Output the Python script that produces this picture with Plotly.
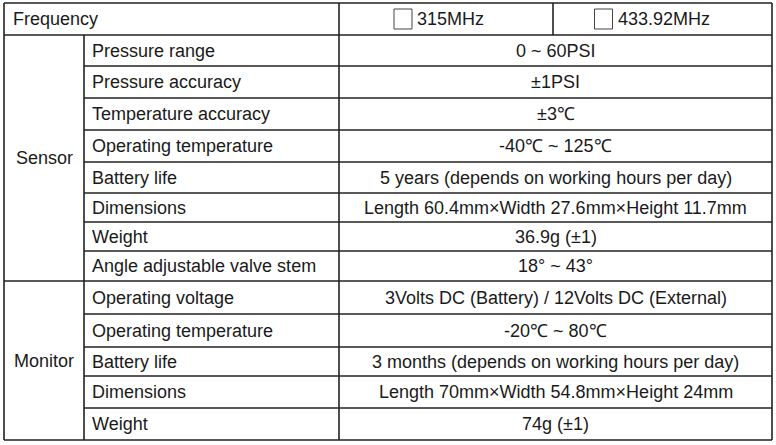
import plotly.graph_objects as go

groups = ["Sensor", "Monitor"]
sensor_params = ["Pressure range", "Pressure accuracy", "Temperature accuracy", "Operating temperature",
                 "Battery life", "Dimensions", "Weight", "Angle adjustable valve stem"]
sensor_values = ["0 ~ 60PSI", "±1PSI", "±3℃", "-40℃ ~ 125℃",
                 "5 years (depends on working hours per day)",
                 "Length 60.4mm×Width 27.6mm×Height 11.7mm", "36.9g (±1)", "18° ~ 43°"]
monitor_params = ["Operating voltage", "Operating temperature", "Battery life", "Dimensions", "Weight"]
monitor_values = ["3Volts DC (Battery) / 12Volts DC (External)", "-20℃ ~ 80℃",
                  "3 months (depends on working hours per day)",
                  "Length 70mm×Width 54.8mm×Height 24mm", "74g (±1)"]
header_label = "Frequency"
frequencies = ["315MHz", "433.92MHz"]

# layout (pixel geometry)
X0, X1, X2, X3, X4 = 4, 84, 339, 553, 772
header = (3, 35)
sensor_rows = [35, 66, 98, 130, 162, 193, 222, 251, 281]
monitor_rows = [281, 314, 347, 376, 408, 440]
FONT = "Liberation Sans, Arial, sans-serif"
FS = 18
LW = 1.6

shapes, ann = [], []
def line(x0, y0, x1, y1):
    shapes.append(dict(type="line", x0=x0, y0=y0, x1=x1, y1=y1, xref="x", yref="y",
                       line=dict(color="#222", width=LW)))
def text(x, y, s, anchor="left"):
    ann.append(dict(x=x, y=y, text=s, xref="x", yref="y", showarrow=False, xanchor=anchor,
                    yanchor="middle", font=dict(family=FONT, size=FS, color="#1a1a1a")))

line(X0, header[0], X4, header[0]); line(X0, monitor_rows[-1], X4, monitor_rows[-1])
line(X0, header[0], X0, monitor_rows[-1]); line(X4, header[0], X4, monitor_rows[-1])
line(X2, header[0], X2, monitor_rows[-1])
line(X3, header[0], X3, header[1])
line(X1, header[1], X1, monitor_rows[-1])
line(X0, header[1], X4, header[1])
line(X0, monitor_rows[0], X4, monitor_rows[0])
for y in sensor_rows[1:-1] + monitor_rows[1:-1]:
    line(X1, y, X4, y)

text(X0 + 7, sum(header) / 2, header_label)
for i, f in enumerate(frequencies):
    cx = (X2 + X3) / 2 if i == 0 else (X3 + X4) / 2
    bx = cx - 52 if i == 0 else cx - 68
    shapes.append(dict(type="rect", x0=bx, x1=bx + 18, y0=9, y1=29, xref="x", yref="y",
                       line=dict(color="#444", width=1)))
    text(bx + 21, sum(header) / 2, f)

for rows, params, vals, g in [(sensor_rows, sensor_params, sensor_values, groups[0]),
                              (monitor_rows, monitor_params, monitor_values, groups[1])]:
    text((X0 + X1) / 2, (rows[0] + rows[-1]) / 2, g, "center")
    for i, (p, v) in enumerate(zip(params, vals)):
        yc = (rows[i] + rows[i + 1]) / 2
        text(X1 + 6, yc, p)
        text((X2 + X4) / 2, yc, v, "center")

fig = go.Figure()
fig.update_layout(width=776, height=445, margin=dict(l=0, r=0, t=0, b=0),
                  paper_bgcolor="white", plot_bgcolor="white", shapes=shapes, annotations=ann,
                  xaxis=dict(range=[0, 776], visible=False, fixedrange=True),
                  yaxis=dict(range=[445, 0], visible=False, fixedrange=True),
                  showlegend=False)
fig.write_html("out.html", config={"displayModeBar": False},
               post_script="document.body.style.margin='0';document.body.style.overflow='hidden';")
